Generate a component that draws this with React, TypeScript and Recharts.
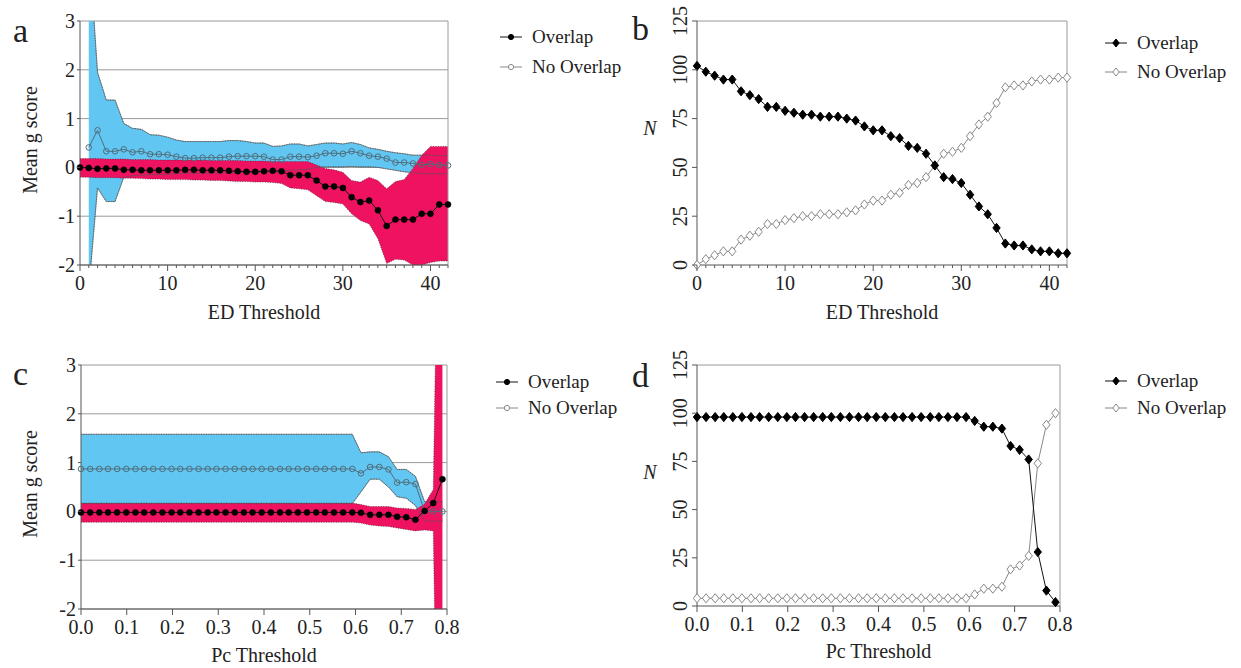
import React from "react";
import {
  ComposedChart, Line, Area, XAxis, YAxis, CartesianGrid, ReferenceLine, Legend
} from "recharts";

const FONT = "Liberation Serif, Tinos, Times New Roman, Times, DejaVu Serif, serif";
const BLUE = "#62c6f2";
const PINK = "#ef1260";
const AXIS = "#555";
const FRAME = "#9a9a9a";
const TEAL = "#4f6d7a";
const GRAY = "#888";

// ---- ED threshold (panels a, b)
const edThreshold = [0, 1, 2, 3, 4, 5, 6, 7, 8, 9, 10, 11, 12, 13, 14, 15, 16, 17, 18, 19, 20,
  21, 22, 23, 24, 25, 26, 27, 28, 29, 30, 31, 32, 33, 34, 35, 36, 37, 38, 39, 40, 41, 42];
const edTicks = edThreshold;

const edOverlapG = [0, -0.01, -0.03, -0.02, -0.02, -0.05, -0.05, -0.06, -0.06, -0.06,
  -0.06, -0.06, -0.05, -0.05, -0.06, -0.06, -0.06, -0.07, -0.08, -0.09,
  -0.09, -0.08, -0.07, -0.08, -0.16, -0.16, -0.16, -0.27, -0.39, -0.39,
  -0.42, -0.61, -0.71, -0.68, -0.88, -1.2, -1.07, -1.07, -1.07, -0.95,
  -0.95, -0.76, -0.76];
const edOverlapHigh = [0.18, 0.18, 0.18, 0.17, 0.17, 0.17, 0.16, 0.16, 0.16, 0.15,
  0.15, 0.15, 0.15, 0.15, 0.15, 0.14, 0.14, 0.14, 0.14, 0.13,
  0.13, 0.13, 0.12, 0.12, 0.12, 0.12, 0.12, 0.05, -0.02, -0.05,
  -0.1, -0.27, -0.3, -0.2, -0.27, -0.44, -0.29, -0.25, -0.02, 0.25,
  0.43, 0.43, 0.43];
const edOverlapLow = [-0.2, -0.2, -0.21, -0.21, -0.21, -0.22, -0.22, -0.23, -0.24, -0.24,
  -0.25, -0.25, -0.25, -0.26, -0.26, -0.27, -0.27, -0.28, -0.29, -0.29,
  -0.3, -0.3, -0.31, -0.33, -0.42, -0.44, -0.46, -0.58, -0.7, -0.72,
  -0.75, -0.95, -1.09, -1.16, -1.46, -1.97, -1.88, -1.9, -2.0, -2.0,
  -1.95, -1.92, -1.92];

const edNoOverlapG = [null, 0.41, 0.76, 0.33, 0.33, 0.37, 0.31, 0.33, 0.27, 0.27,
  0.26, 0.22, 0.19, 0.19, 0.2, 0.2, 0.2, 0.22, 0.23, 0.23,
  0.23, 0.22, 0.16, 0.16, 0.22, 0.22, 0.21, 0.24, 0.29, 0.29,
  0.28, 0.33, 0.29, 0.24, 0.22, 0.18, 0.1, 0.1, 0.08, 0.05,
  0.07, 0.05, 0.04];
const edNoOverlapHigh = [null, 4.6, 1.95, 1.38, 1.38, 0.9, 0.8, 0.78, 0.67, 0.66,
  0.62, 0.56, 0.53, 0.53, 0.53, 0.53, 0.53, 0.55, 0.55, 0.53,
  0.5, 0.5, 0.43, 0.44, 0.48, 0.48, 0.44, 0.47, 0.5, 0.5,
  0.48, 0.51, 0.47, 0.4, 0.37, 0.33, 0.3, 0.28, 0.25, 0.25,
  0.25, 0.24, 0.24];
const edNoOverlapLow = [null, -2.5, -0.42, -0.7, -0.7, -0.2, -0.17, -0.16, -0.15, -0.15,
  -0.14, -0.13, -0.12, -0.12, -0.12, -0.12, -0.12, -0.11, -0.1, -0.1,
  -0.1, -0.1, -0.1, -0.08, -0.06, -0.05, -0.04, 0.0, 0.01, 0.01,
  0.01, 0.02, 0.01, 0.01, 0.0, -0.03, -0.06, -0.09, -0.11, -0.12,
  -0.13, -0.13, -0.13];

const edOverlapN = [102, 99, 97, 95, 95, 89, 87, 85, 81, 81,
  79, 78, 77, 77, 76, 76, 76, 75, 74, 71,
  69, 69, 66, 65, 61, 60, 57, 51, 45, 44,
  42, 36, 30, 26, 19, 11, 10, 10, 8, 7,
  7, 6, 6];
const edNoOverlapN = [0, 3, 5, 7, 7, 13, 15, 17, 21, 21,
  23, 24, 25, 25, 26, 26, 26, 27, 28, 31,
  33, 33, 36, 37, 41, 42, 45, 51, 57, 58,
  60, 66, 72, 76, 83, 91, 92, 92, 94, 95,
  95, 96, 96];

// ---- Pc threshold (panels c, d)
const pcThreshold = [0, 0.02, 0.04, 0.059, 0.079, 0.099, 0.119, 0.138, 0.158, 0.178,
  0.198, 0.217, 0.237, 0.257, 0.277, 0.296, 0.316, 0.336, 0.356, 0.375,
  0.395, 0.415, 0.435, 0.454, 0.474, 0.494, 0.514, 0.533, 0.553, 0.573,
  0.593, 0.612, 0.632, 0.652, 0.672, 0.691, 0.711, 0.731, 0.751, 0.77, 0.79];
const pcTicks = [0, 0.1, 0.2, 0.3, 0.4, 0.5, 0.6, 0.7, 0.8];

const pcOverlapG = [-0.02, -0.02, -0.02, -0.02, -0.02, -0.02, -0.02, -0.02, -0.02, -0.02,
  -0.02, -0.02, -0.02, -0.02, -0.02, -0.02, -0.02, -0.02, -0.02, -0.02,
  -0.02, -0.02, -0.02, -0.02, -0.02, -0.02, -0.02, -0.02, -0.02, -0.02,
  -0.02, -0.03, -0.07, -0.07, -0.07, -0.11, -0.12, -0.17, 0.01, 0.17, 0.66];
const pcOverlapHigh = [0.17, 0.17, 0.17, 0.17, 0.17, 0.17, 0.17, 0.17, 0.17, 0.17,
  0.17, 0.17, 0.17, 0.17, 0.17, 0.17, 0.17, 0.17, 0.17, 0.17,
  0.17, 0.17, 0.17, 0.17, 0.17, 0.17, 0.17, 0.17, 0.17, 0.17,
  0.17, 0.14, 0.1, 0.1, 0.1, 0.07, 0.06, 0.04, 0.15, 0.45, 12];
const pcOverlapLow = [-0.22, -0.22, -0.22, -0.22, -0.22, -0.22, -0.22, -0.22, -0.22, -0.22,
  -0.22, -0.22, -0.22, -0.22, -0.22, -0.22, -0.22, -0.22, -0.22, -0.22,
  -0.22, -0.22, -0.22, -0.22, -0.22, -0.22, -0.22, -0.22, -0.22, -0.22,
  -0.22, -0.24, -0.28, -0.3, -0.31, -0.34, -0.37, -0.4, -0.38, -0.4, -12];

const pcNoOverlapG = [0.87, 0.87, 0.87, 0.87, 0.87, 0.87, 0.87, 0.87, 0.87, 0.87,
  0.87, 0.87, 0.87, 0.87, 0.87, 0.87, 0.87, 0.87, 0.87, 0.87,
  0.87, 0.87, 0.87, 0.87, 0.87, 0.87, 0.87, 0.87, 0.87, 0.87,
  0.87, 0.78, 0.91, 0.91, 0.86, 0.59, 0.6, 0.56, 0.0, 0.0, 0.0];
const pcNoOverlapHigh = [1.58, 1.58, 1.58, 1.58, 1.58, 1.58, 1.58, 1.58, 1.58, 1.58,
  1.58, 1.58, 1.58, 1.58, 1.58, 1.58, 1.58, 1.58, 1.58, 1.58,
  1.58, 1.58, 1.58, 1.58, 1.58, 1.58, 1.58, 1.58, 1.58, 1.58,
  1.58, 1.2, 1.22, 1.22, 1.12, 0.86, 0.86, 0.72, 0.2, 0.2, 0.2];
const pcNoOverlapLow = [0.16, 0.16, 0.16, 0.16, 0.16, 0.16, 0.16, 0.16, 0.16, 0.16,
  0.16, 0.16, 0.16, 0.16, 0.16, 0.16, 0.16, 0.16, 0.16, 0.16,
  0.16, 0.16, 0.16, 0.16, 0.16, 0.16, 0.16, 0.16, 0.16, 0.16,
  0.16, 0.4, 0.66, 0.66, 0.5, 0.3, 0.27, 0.12, -0.2, -0.2, -0.2];

const pcOverlapN = [98, 98, 98, 98, 98, 98, 98, 98, 98, 98,
  98, 98, 98, 98, 98, 98, 98, 98, 98, 98,
  98, 98, 98, 98, 98, 98, 98, 98, 98, 98,
  98, 96, 93, 93, 92, 83, 81, 76, 28, 8, 2];
const pcNoOverlapN = [4, 4, 4, 4, 4, 4, 4, 4, 4, 4,
  4, 4, 4, 4, 4, 4, 4, 4, 4, 4,
  4, 4, 4, 4, 4, 4, 4, 4, 4, 4,
  4, 6, 9, 9, 10, 19, 21, 26, 74, 94, 100];

const gTicks = [-2, -1, 0, 1, 2, 3];
const nTicks = [0, 25, 50, 75, 100, 125];

function gRows(xs, ov, ovLo, ovHi, no, noLo, noHi) {
  return xs.map((x, i) => ({
    x,
    overlap: ov[i],
    noOverlap: no[i],
    overlapBand: [ovLo[i], ovHi[i]],
    noOverlapBand: noHi[i] == null ? null : [noLo[i], noHi[i]],
  }));
}

const edRowsG = gRows(edThreshold, edOverlapG, edOverlapLow, edOverlapHigh,
  edNoOverlapG, edNoOverlapLow, edNoOverlapHigh);
const pcRowsG = gRows(pcThreshold, pcOverlapG, pcOverlapLow, pcOverlapHigh,
  pcNoOverlapG, pcNoOverlapLow, pcNoOverlapHigh);
const edRowsN = edThreshold.map((x, i) => ({ x, overlap: edOverlapN[i], noOverlap: edNoOverlapN[i] }));
const pcRowsN = pcThreshold.map((x, i) => ({ x, overlap: pcOverlapN[i], noOverlap: pcNoOverlapN[i] }));

const txt = { fill: "#222", style: { fontFamily: FONT } };

const xTick = (isMajor, fmt) => (props: any) => {
  const { x, y, payload } = props;
  const major = isMajor(payload.value);
  return (
    <g key={"xt" + payload.value}>
      <line x1={x} x2={x} y1={y} y2={y + (major ? 6 : 3)} stroke={AXIS} />
      {major && (
        <text x={x} y={y + 25} textAnchor="middle" fontSize={20} {...txt}>{fmt(payload.value)}</text>
      )}
    </g>
  );
};

const gYTick = (props: any) => {
  const { x, y, payload } = props;
  return (
    <g key={"gy" + payload.value}>
      <line x1={x - 3} x2={x} y1={y} y2={y} stroke={AXIS} />
      <text x={x - 5} y={y} dy="0.35em" textAnchor="end" fontSize={20} {...txt}>{payload.value}</text>
    </g>
  );
};

const nYTick = (props: any) => {
  const { x, y, payload } = props;
  const tx = x - 10;
  return (
    <g key={"ny" + payload.value}>
      <line x1={x - 5} x2={x} y1={y} y2={y} stroke={AXIS} />
      <text x={tx} y={y} textAnchor="middle" transform={`rotate(-90 ${tx} ${y})`} fontSize={20} {...txt}>
        {payload.value}
      </text>
    </g>
  );
};

const xTitle = (label, dy) => (props: any) => {
  const vb = props.viewBox;
  return (
    <text x={vb.x + vb.width / 2} y={vb.y + dy} textAnchor="middle" fontSize={20} {...txt}>{label}</text>
  );
};

const gTitle = (props: any) => {
  const vb = props.viewBox;
  const cx = vb.x + 37;
  const cy = vb.y + vb.height / 2 - 3;
  return (
    <text x={cx} y={cy} transform={`rotate(-90 ${cx} ${cy})`} textAnchor="middle" fontSize={20} {...txt}>
      Mean g score
    </text>
  );
};

const nTitle = (props: any) => {
  const vb = props.viewBox;
  return (
    <text x={vb.x + 30} y={vb.y + 114} textAnchor="middle" fontSize={20} fontStyle="italic" {...txt}>N</text>
  );
};

function Diamond({ cx, cy, fill, stroke, s = 4.6 }: any) {
  if (cx == null || cy == null) return null;
  return (
    <path d={`M${cx},${cy - s}L${cx + s * 0.8},${cy}L${cx},${cy + s}L${cx - s * 0.8},${cy}Z`}
      fill={fill} stroke={stroke} strokeWidth={1} />
  );
}

const legendStyle = {
  Overlap: { line: "#111", fill: "#000", stroke: "#000" },
  "No Overlap": { line: GRAY, fill: "#fff", stroke: GRAY },
};

const legendContent = (shape, rowH) => (props: any) => {
  const items = [...(props.payload || [])]
    .filter((p) => legendStyle[p.value])
    .sort((a, b) => (a.value === "Overlap" ? -1 : b.value === "Overlap" ? 1 : 0));
  return (
    <div>
      {items.map((p) => {
        const st = legendStyle[p.value];
        return (
          <div key={p.value} style={{ display: "flex", alignItems: "center", height: rowH }}>
            <svg width={22} height={12}>
              <line x1={0} x2={22} y1={6} y2={6} stroke={st.line} strokeWidth={1} />
              {shape === "diamond"
                ? <Diamond cx={11} cy={6} s={4} fill={st.fill} stroke={st.stroke} />
                : <circle cx={11} cy={6} r={2.6} fill={st.fill} stroke={st.stroke} />}
            </svg>
            <span style={{ marginLeft: 10, fontFamily: FONT, fontSize: 19, color: "#222", whiteSpace: "nowrap" }}>
              {p.value}
            </span>
          </div>
        );
      })}
    </div>
  );
};

function GPanel({ rows, box, margin, yW, xH, xDomain, xTicksList, isMajor, fmt, xLabel, xLabelDy, legend }: any) {
  return (
    <div style={{ position: "absolute", left: box.left, top: box.top }}>
      <ComposedChart width={box.width} height={box.height} data={rows} margin={margin}>
        <CartesianGrid horizontal vertical={false} stroke={FRAME} />
        <XAxis dataKey="x" type="number" domain={xDomain} ticks={xTicksList} interval={0}
          tickSize={0} tickMargin={0} height={xH} stroke={AXIS}
          tick={xTick(isMajor, fmt)} label={{ content: xTitle(xLabel, xLabelDy) }} />
        <YAxis type="number" domain={[-2, 3]} ticks={gTicks} interval={0} allowDataOverflow
          tickSize={0} tickMargin={0} width={yW} stroke={AXIS} tick={gYTick}
          label={{ content: gTitle }} />
        <ReferenceLine x={xDomain[1]} stroke={FRAME} />
        <Area dataKey="noOverlapBand" fill={BLUE} fillOpacity={1} stroke="#333" strokeWidth={0.7}
          strokeDasharray="1 1.5" legendType="none" isAnimationActive={false} />
        <Area dataKey="overlapBand" fill={PINK} fillOpacity={1} stroke="#333" strokeWidth={0.7}
          strokeDasharray="1 1.5" legendType="none" isAnimationActive={false} />
        <Area dataKey="noOverlapBand" fill="none" stroke="#555" strokeWidth={0.6}
          legendType="none" isAnimationActive={false} />
        <Line dataKey="noOverlap" name="No Overlap" stroke={TEAL} strokeWidth={1}
          dot={{ r: 2.8, fill: "none", stroke: TEAL, strokeWidth: 1 }} isAnimationActive={false} />
        <Line dataKey="overlap" name="Overlap" stroke="#111" strokeWidth={1}
          dot={{ r: 3, fill: "#000", stroke: "#000", strokeWidth: 0.5 }} isAnimationActive={false} />
        <Legend layout="vertical" align="center" verticalAlign="middle"
          wrapperStyle={{ left: legend.left, top: legend.top, width: 140 }}
          content={legendContent("circle", legend.rowH)} />
      </ComposedChart>
    </div>
  );
}

function NPanel({ rows, box, margin, yW, xH, xDomain, xTicksList, isMajor, fmt, xLabel, xLabelDy, legend }: any) {
  return (
    <div style={{ position: "absolute", left: box.left, top: box.top }}>
      <ComposedChart width={box.width} height={box.height} data={rows} margin={margin}>
        <XAxis dataKey="x" type="number" domain={xDomain} ticks={xTicksList} interval={0}
          tickSize={0} tickMargin={0} height={xH} stroke={AXIS}
          tick={xTick(isMajor, fmt)} label={{ content: xTitle(xLabel, xLabelDy) }} />
        <YAxis type="number" domain={[0, 125]} ticks={nTicks} interval={0}
          tickSize={0} tickMargin={0} width={yW} stroke={AXIS} tick={nYTick}
          label={{ content: nTitle }} />
        <ReferenceLine x={xDomain[1]} stroke={FRAME} />
        <ReferenceLine y={125} stroke={FRAME} />
        <Line dataKey="noOverlap" name="No Overlap" stroke={GRAY} strokeWidth={1}
          dot={(p: any) => <Diamond key={"no" + p.index} cx={p.cx} cy={p.cy} fill="#fff" stroke={GRAY} />}
          isAnimationActive={false} />
        <Line dataKey="overlap" name="Overlap" stroke="#111" strokeWidth={1}
          dot={(p: any) => <Diamond key={"ov" + p.index} cx={p.cx} cy={p.cy} fill="#000" stroke="#000" />}
          isAnimationActive={false} />
        <Legend layout="vertical" align="center" verticalAlign="middle"
          wrapperStyle={{ left: legend.left, top: legend.top, width: 140 }}
          content={legendContent("diamond", legend.rowH)} />
      </ComposedChart>
    </div>
  );
}

const isTen = (v) => v % 10 === 0;
const always = () => true;
const fmtInt = (v) => String(v);
const fmtOne = (v) => v.toFixed(1);

export default function App() {
  return (
    <div style={{ position: "absolute", left: 0, top: 0, width: 1241, height: 668, background: "#fff", fontFamily: FONT }}>
      <GPanel rows={edRowsG} box={{ left: 0, top: 0, width: 620, height: 330 }}
        margin={{ top: 21, right: 172, bottom: 0, left: 0 }} yW={80} xH={65}
        xDomain={[0, 42]} xTicksList={edTicks} isMajor={isTen} fmt={fmtInt}
        xLabel="ED Threshold" xLabelDy={54} legend={{ left: 500, top: 22, rowH: 30 }} />
      <NPanel rows={edRowsN} box={{ left: 620, top: 0, width: 621, height: 330 }}
        margin={{ top: 21, right: 174, bottom: 0, left: 0 }} yW={77} xH={65}
        xDomain={[0, 42]} xTicksList={edTicks} isMajor={isTen} fmt={fmtInt}
        xLabel="ED Threshold" xLabelDy={54} legend={{ left: 485, top: 28, rowH: 29 }} />
      <GPanel rows={pcRowsG} box={{ left: 0, top: 330, width: 620, height: 338 }}
        margin={{ top: 35, right: 173, bottom: 0, left: 0 }} yW={81} xH={59}
        xDomain={[0, 0.8]} xTicksList={pcTicks} isMajor={always} fmt={fmtOne}
        xLabel="Pc Threshold" xLabelDy={53} legend={{ left: 496, top: 39, rowH: 26 }} />
      <NPanel rows={pcRowsN} box={{ left: 620, top: 330, width: 621, height: 338 }}
        margin={{ top: 35, right: 181, bottom: 0, left: 0 }} yW={77} xH={62}
        xDomain={[0, 0.8]} xTicksList={pcTicks} isMajor={always} fmt={fmtOne}
        xLabel="Pc Threshold" xLabelDy={52} legend={{ left: 485, top: 37, rowH: 27 }} />
      <svg width={1241} height={668} style={{ position: "absolute", left: 0, top: 0, pointerEvents: "none" }}>
        <text x={13} y={42} fontSize={34} {...txt}>a</text>
        <text x={632} y={40} fontSize={34} {...txt}>b</text>
        <text x={13} y={385} fontSize={34} {...txt}>c</text>
        <text x={632} y={387} fontSize={34} {...txt}>d</text>
      </svg>
    </div>
  );
}
